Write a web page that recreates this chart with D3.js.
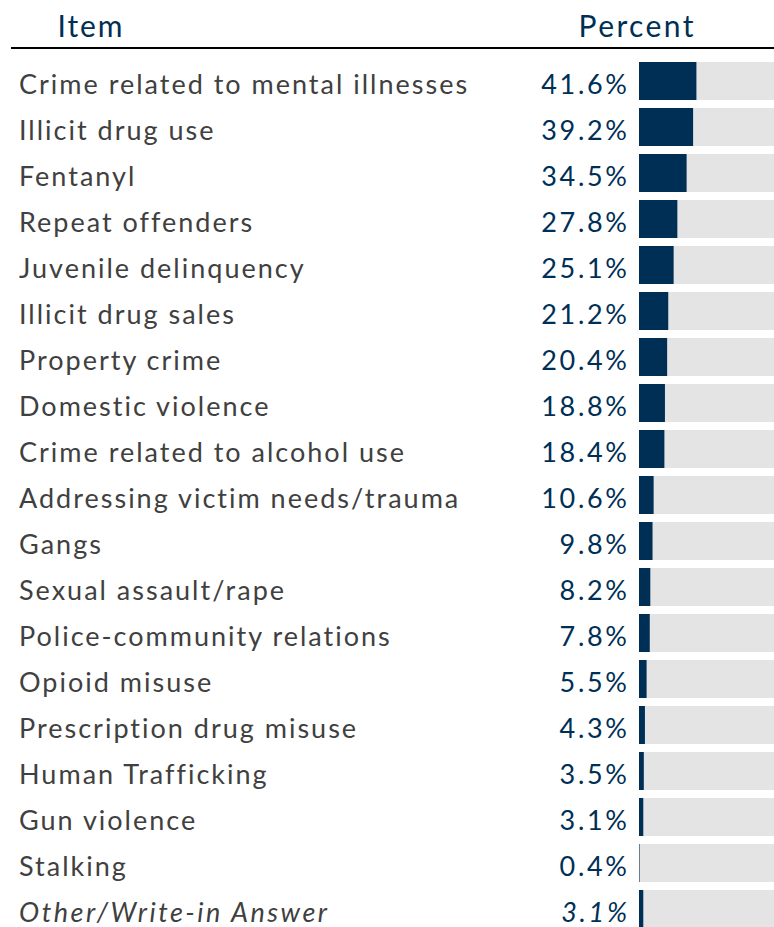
<!DOCTYPE html>
<html>
<head>
<meta charset="utf-8">
<script src="https://cdn.jsdelivr.net/npm/d3@7"></script>
<style>
  html, body { margin: 0; padding: 0; background: #fff; }
  svg { display: block; }
</style>
</head>
<body>
<svg id="chart" width="774" height="927"></svg>
<script>
// Survey items and the share of respondents choosing each
const items = [
  "Crime related to mental illnesses",
  "Illicit drug use",
  "Fentanyl",
  "Repeat offenders",
  "Juvenile delinquency",
  "Illicit drug sales",
  "Property crime",
  "Domestic violence",
  "Crime related to alcohol use",
  "Addressing victim needs/trauma",
  "Gangs",
  "Sexual assault/rape",
  "Police-community relations",
  "Opioid misuse",
  "Prescription drug misuse",
  "Human Trafficking",
  "Gun violence",
  "Stalking",
  "Other/Write-in Answer"
];
const percents = [41.6, 39.2, 34.5, 27.8, 25.1, 21.2, 20.4, 18.8, 18.4, 10.6, 9.8, 8.2, 7.8, 5.5, 4.3, 3.5, 3.1, 0.4, 3.1];
const italicItems = ["Other/Write-in Answer"];
const headers = ["Item", "Percent"];

const navy = "#002f56";
const textGray = "#404040";
const trackGray = "#e4e4e4";
const font = "Lato, 'Open Sans', sans-serif";

const svg = d3.select("#chart");

const rows = items.map((name, i) => ({ name, value: percents[i], italic: italicItems.includes(name) }));

// Row bands
const y = d3.scaleBand()
  .domain(items)
  .range([58, 58 + 46 * items.length])
  .paddingInner(8 / 46)
  .paddingOuter(4 / 46);

// Bar length scale (0–100%)
const barX0 = 639;
const x = d3.scaleLinear().domain([0, 100]).range([barX0, barX0 + 138]);

// Column headers
[[headers[0], 90, 1.9], [headers[1], 636, 2.4]].forEach(([label, cx, ls]) => {
  svg.append("text")
    .attr("x", cx + ls / 2).attr("y", 37)
    .attr("text-anchor", "middle")
    .attr("fill", navy)
    .style("font-family", font)
    .style("font-size", "30px")
    .style("letter-spacing", ls + "px")
    .text(label);
});

svg.append("line")
  .attr("x1", 11).attr("x2", 774)
  .attr("y1", 48).attr("y2", 48)
  .attr("stroke", "#000")
  .attr("stroke-width", 2);

const g = svg.selectAll("g.row")
  .data(rows)
  .join("g")
  .attr("class", "row");

// Background track
g.append("rect")
  .attr("x", barX0)
  .attr("y", d => y(d.name))
  .attr("width", x(100) - barX0)
  .attr("height", y.bandwidth())
  .attr("fill", trackGray);

// Value bar
g.append("rect")
  .attr("x", barX0)
  .attr("y", d => y(d.name))
  .attr("width", d => x(d.value) - barX0)
  .attr("height", y.bandwidth())
  .attr("fill", navy);

// Item label
g.append("text")
  .attr("x", 19)
  .attr("y", d => y(d.name) + y.bandwidth() / 2)
  .attr("dy", 13)
  .attr("fill", textGray)
  .style("font-family", font)
  .style("font-size", "27px")
  .style("font-style", d => d.italic ? "italic" : "normal")
  .style("letter-spacing", d => d.italic ? "2.5px" : "2px")
  .text(d => d.name);

// Percent label
const pctLS = 2.7;
g.append("text")
  .attr("x", 627 + pctLS)
  .attr("y", d => y(d.name) + y.bandwidth() / 2)
  .attr("dy", 13)
  .attr("text-anchor", "end")
  .attr("fill", navy)
  .style("font-family", font)
  .style("font-size", "27px")
  .style("font-style", d => d.italic ? "italic" : "normal")
  .style("letter-spacing", pctLS + "px")
  .text(d => d.value.toFixed(1) + "%");
</script>
</body>
</html>
